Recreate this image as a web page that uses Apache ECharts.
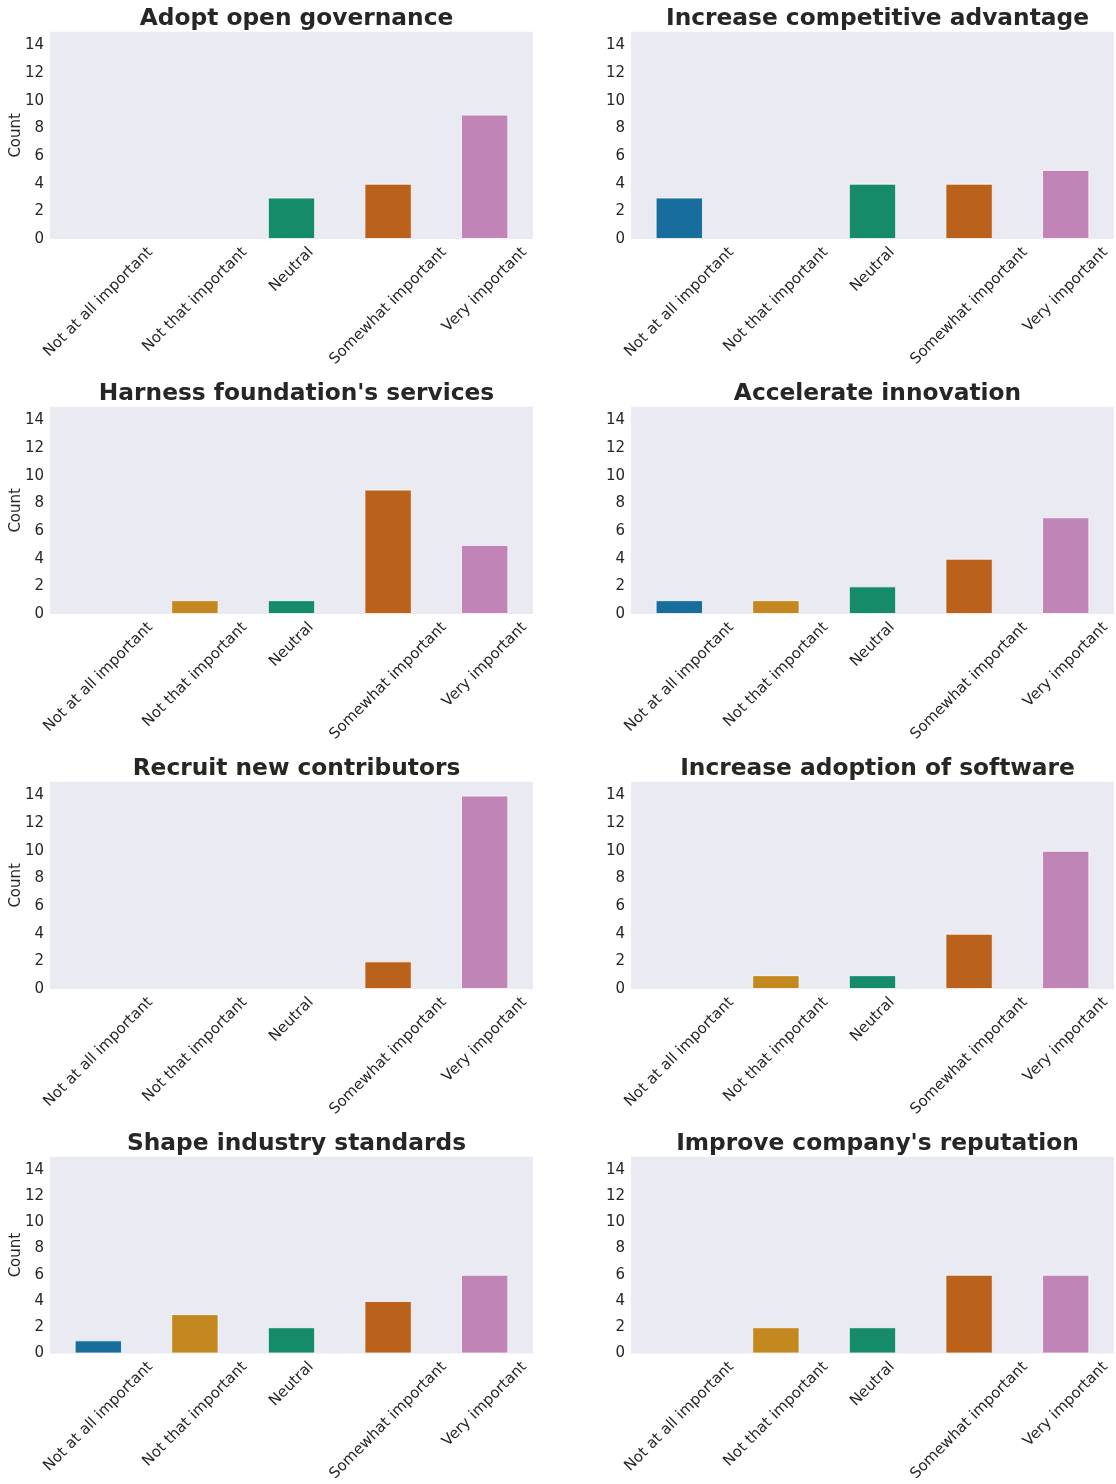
<!DOCTYPE html>
<html>
<head>
<meta charset="utf-8">
<script src="https://cdn.jsdelivr.net/npm/echarts@6/dist/echarts.min.js"></script>
<style>
html,body{margin:0;padding:0;background:#fff;}
#chart{width:1116px;height:1484px;}
</style>
</head>
<body>
<div id="chart"></div>
<script>
// ---- data ----
const categories = ['Not at all important', 'Not that important', 'Neutral', 'Somewhat important', 'Very important'];
const titles = [
  'Adopt open governance',
  'Increase competitive advantage',
  "Harness foundation's services",
  'Accelerate innovation',
  'Recruit new contributors',
  'Increase adoption of software',
  'Shape industry standards',
  "Improve company's reputation"
];
const adoptOpenGovernance = [0, 0, 3, 4, 9];
const increaseCompetitiveAdvantage = [3, 0, 4, 4, 5];
const harnessFoundationServices = [0, 1, 1, 9, 5];
const accelerateInnovation = [1, 1, 2, 4, 7];
const recruitNewContributors = [0, 0, 0, 2, 14];
const increaseAdoptionOfSoftware = [0, 1, 1, 4, 10];
const shapeIndustryStandards = [1, 3, 2, 4, 6];
const improveCompanyReputation = [0, 2, 2, 6, 6];
const yTicks = [0, 2, 4, 6, 8, 10, 12, 14];

const seriesValues = [
  adoptOpenGovernance, increaseCompetitiveAdvantage,
  harnessFoundationServices, accelerateInnovation,
  recruitNewContributors, increaseAdoptionOfSoftware,
  shapeIndustryStandards, improveCompanyReputation
];

// ---- styles ----
const colors = ['#176D9C', '#C38820', '#168B6A', '#BA611B', '#C184B6'];
const FONT = 'DejaVu Sans';
const TEXT = '#262626';
const LABEL_SIZE = 15;
const TITLE_SIZE = 23.3;

// layout
const gridW = 483, gridH = 207.3;
const lefts = [50, 631];
const top0 = 31.7, rowStep = 375;

// per-label offsets so the rotated label's bounding box is centered under the tick
const ctx = document.createElement('canvas').getContext('2d');
ctx.font = LABEL_SIZE + 'px "' + FONT + '"';
const hTxt = 1.164 * LABEL_SIZE;
const pad = 5;
const rich = {};
categories.forEach((c, i) => {
  const w = ctx.measureText(c).width;
  const D = pad + 0.3536 * (w + hTxt);
  const P = 1.4142 * D;
  rich['c' + i] = {
    fontFamily: FONT, fontSize: LABEL_SIZE, color: TEXT,
    padding: [P, P, 0, 0]
  };
});

const grids = [], xAxes = [], yAxes = [], series = [], titleOpts = [];
seriesValues.forEach((vals, k) => {
  const col = k % 2, row = Math.floor(k / 2);
  const left = lefts[col];
  const top = top0 + row * rowStep;
  grids.push({
    left: left, top: top, width: gridW, height: gridH,
    show: true, backgroundColor: '#EAEAF2', borderWidth: 0, containLabel: false
  });
  titleOpts.push({
    text: titles[k],
    left: left + gridW / 2, top: top - 29,
    textAlign: 'center',
    textStyle: { fontFamily: FONT, fontWeight: 'bold', fontSize: TITLE_SIZE, color: TEXT }
  });
  xAxes.push({
    type: 'category', gridIndex: k, data: categories, boundaryGap: true,
    axisLine: { show: false }, axisTick: { show: false }, splitLine: { show: false },
    axisLabel: {
      interval: 0, rotate: 45, margin: 0, align: 'center', verticalAlign: 'middle',
      formatter: (v, i) => '{c' + i + '|' + v + '}',
      rich: rich
    }
  });
  yAxes.push({
    type: 'value', gridIndex: k, min: 0, max: 15, interval: 2,
    axisLine: { show: false }, axisTick: { show: false }, splitLine: { show: false },
    axisLabel: {
      margin: 6, fontFamily: FONT, fontSize: LABEL_SIZE, color: TEXT,
      showMaxLabel: false,
      formatter: v => (yTicks.indexOf(v) >= 0 ? String(v) : '')
    },
    name: col === 0 ? 'Count' : '',
    nameLocation: 'middle', nameGap: 26, nameMoveOverlap: false,
    nameTextStyle: { fontFamily: FONT, fontSize: LABEL_SIZE, color: TEXT }
  });
  series.push({
    type: 'bar', xAxisIndex: k, yAxisIndex: k,
    barWidth: '49%',
    data: vals.map(v => (v === 0 ? '-' : v)),
    itemStyle: {
      color: p => colors[p.dataIndex],
      borderColor: 'rgba(255,255,255,0.75)', borderWidth: 1
    },
    emphasis: { disabled: true },
    silent: true
  });
});

const chart = echarts.init(document.getElementById('chart'), null, { renderer: 'canvas' });
chart.setOption({
  animation: false,
  backgroundColor: '#ffffff',
  title: titleOpts,
  grid: grids,
  xAxis: xAxes,
  yAxis: yAxes,
  series: series
});
</script>
</body>
</html>
